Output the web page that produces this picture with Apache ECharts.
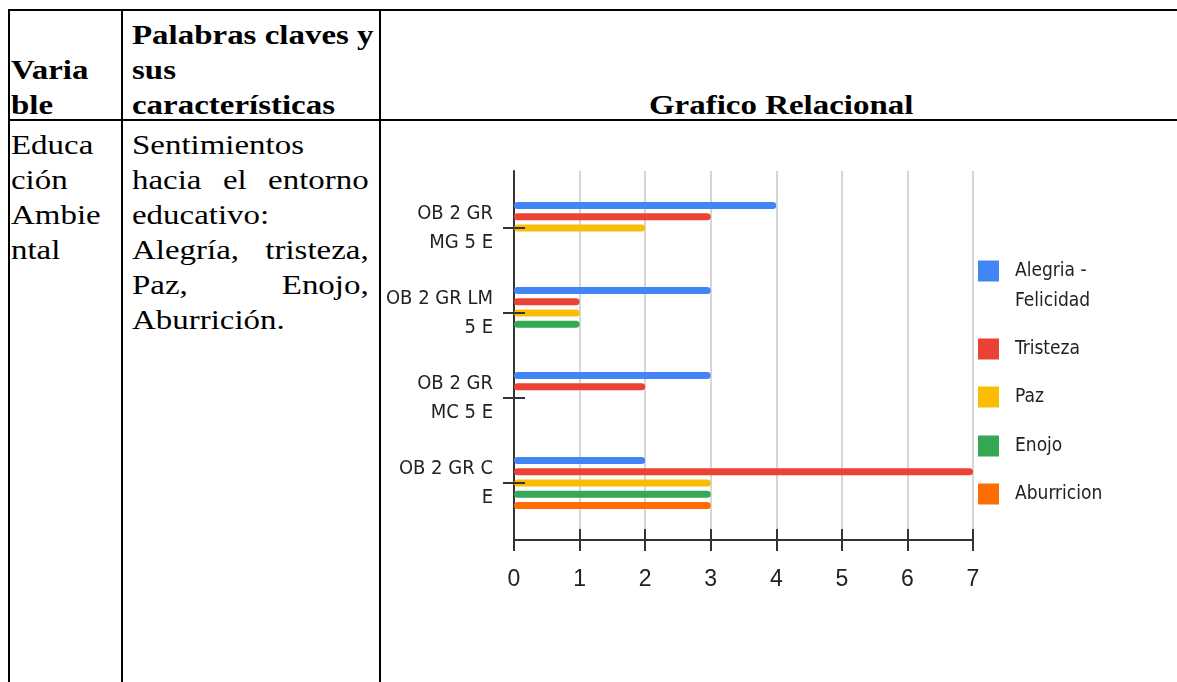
<!DOCTYPE html>
<html>
<head>
<meta charset="utf-8">
<title>Grafico Relacional</title>
<script src="https://cdn.jsdelivr.net/npm/echarts@6/dist/echarts.min.js"></script>
<style>
  html, body { margin: 0; padding: 0; background: #fff; }
  body { width: 1177px; height: 682px; position: relative; overflow: hidden;
         font-family: 'Liberation Serif', 'Times New Roman', serif; color: #000; }
  .line-h { position: absolute; left: 8px; width: 1169px; height: 2px; background: #000; }
  .line-v { position: absolute; top: 9px; width: 2px; height: 673px; background: #000; }
  .cell { position: absolute; font-size: 27px; line-height: 35px;
          transform: scaleX(1.22); transform-origin: 0 0; }
  .bold { font-weight: bold; white-space: nowrap; }
  .just { text-align: justify; text-align-last: justify; }
  #myChart { position: absolute; left: 382px; top: 122px; width: 795px; height: 560px; }
</style>
</head>
<body>
  <!-- bordes de la tabla -->
  <div class="line-h" style="top:9px"></div>
  <div class="line-h" style="top:119px"></div>
  <div class="line-v" style="left:8px"></div>
  <div class="line-v" style="left:121px"></div>
  <div class="line-v" style="left:379px"></div>

  <!-- encabezado -->
  <div class="cell bold" style="left:11px; top:53px">Varia<br>ble</div>
  <div class="cell bold" style="left:132px; top:18px">Palabras claves y<br>sus<br>características</div>
  <div class="cell bold" style="left:649px; top:88px">Grafico Relacional</div>

  <!-- fila -->
  <div class="cell" style="left:11px; top:128px">Educa<br>ción<br>Ambie<br>ntal</div>
  <div class="cell" style="left:132px; top:128px; width:194px">
    <div>Sentimientos</div>
    <div class="just">hacia el entorno</div>
    <div>educativo:</div>
    <div class="just">Alegría, tristeza,</div>
    <div class="just">Paz, Enojo,</div>
    <div>Aburrición.</div>
  </div>

  <div id="myChart"></div>

<script>
  // datos
  var categories = ['OB 2 GR\nMG 5 E', 'OB 2 GR LM\n5 E', 'OB 2 GR\nMC 5 E', 'OB 2 GR C\nE'];
  var xTicks = [0, 1, 2, 3, 4, 5, 6, 7];
  var seriesNames = ['Alegria - Felicidad', 'Tristeza', 'Paz', 'Enojo', 'Aburricion'];
  var alegria = [4, 3, 3, 2];
  var tristeza = [3, 1, 2, 7];
  var paz = [2, 1, 0, 3];
  var enojo = [0, 1, 0, 3];
  var aburricion = [0, 0, 0, 3];
  var colors = ['#4285F4', '#EA4335', '#FBBC04', '#34A853', '#FF6D01'];

  var values = [alegria, tristeza, paz, enojo, aburricion];
  var narrow = "'DejaVu Sans Condensed', 'Liberation Sans Narrow', sans-serif";
  var axisColor = '#333';

  function drawChart() {
    var myChart = echarts.init(document.getElementById('myChart'));

    // centro vertical de cada cuadro de la leyenda
    var legendCenters = [149, 227, 275, 324, 372];
    var legends = seriesNames.map(function (name, i) {
      var lines = i === 0 ? 3 : 1;
      return {
        data: [name],
        left: 596,
        top: legendCenters[i] - lines * 15,
        padding: 0,
        itemWidth: 21,
        itemHeight: 21,
        icon: 'rect',
        selectedMode: false,
        formatter: function (n) {
          // primera linea vacia para que el cuadro quede junto a "Alegria -"
          return n === 'Alegria - Felicidad' ? '\nAlegria -\nFelicidad' : n;
        },
        textStyle: {
          fontFamily: narrow,
          fontSize: 19,
          color: '#222',
          lineHeight: 30,
          padding: [0, 0, 0, 11]
        }
      };
    });

    myChart.setOption({
      animation: false,
      legend: legends,
      grid: [
        {left: 132, top: 63.5, width: 459, height: 340},  // barras
        {left: 132, top: 49, width: 459, height: 369}     // marco y lineas
      ],
      xAxis: [
        {gridIndex: 0, type: 'value', min: xTicks[0], max: xTicks[xTicks.length - 1], interval: 1, show: false},
        {
          gridIndex: 1,
          type: 'value',
          position: 'bottom',
          min: xTicks[0],
          max: xTicks[xTicks.length - 1],
          interval: 1,
          axisLine: {show: true, lineStyle: {color: axisColor, width: 2}},
          axisTick: {show: true, length: 11, lineStyle: {color: axisColor, width: 2}},
          axisLabel: {margin: 28, fontSize: 23, color: '#222', fontFamily: "'Liberation Sans', Arial, sans-serif"},
          splitLine: {show: true, lineStyle: {color: '#d6d6d6', width: 2}}
        },
        {
          gridIndex: 1,
          type: 'value',
          position: 'bottom',
          min: xTicks[0],
          max: xTicks[xTicks.length - 1],
          interval: 1,
          axisLine: {show: false},
          axisTick: {show: true, inside: true, length: 11, lineStyle: {color: axisColor, width: 2}},
          axisLabel: {show: false},
          splitLine: {show: false}
        }
      ],
      yAxis: [
        {
          gridIndex: 0,
          type: 'category',
          position: 'left',
          data: categories,
          inverse: true,
          z: 5,
          axisLine: {show: false},
          axisTick: {show: true, alignWithLabel: true, length: 11, lineStyle: {color: axisColor, width: 2}},
          axisLabel: {margin: 21, fontSize: 20, lineHeight: 29, color: '#222', fontFamily: narrow}
        },
        {
          gridIndex: 0,
          type: 'category',
          position: 'left',
          data: categories,
          inverse: true,
          z: 5,
          axisLine: {show: false},
          axisTick: {show: true, inside: true, alignWithLabel: true, length: 11, lineStyle: {color: axisColor, width: 2}},
          axisLabel: {show: false}
        },
        {
          gridIndex: 1,
          type: 'value',
          position: 'left',
          min: 0,
          max: 1,
          axisLine: {show: true, lineStyle: {color: axisColor, width: 2}},
          axisTick: {show: false},
          axisLabel: {show: false},
          splitLine: {show: false}
        }
      ],
      series: seriesNames.map(function (name, i) {
        return {
          name: name,
          type: 'bar',
          xAxisIndex: 0,
          yAxisIndex: 0,
          data: values[i],
          barWidth: 7,
          barGap: '61%',
          silent: true,
          itemStyle: {color: colors[i], borderRadius: 3.5}
        };
      })
    });
    window.onresize = myChart.resize;
  }

  drawChart();
</script>
</body>
</html>
